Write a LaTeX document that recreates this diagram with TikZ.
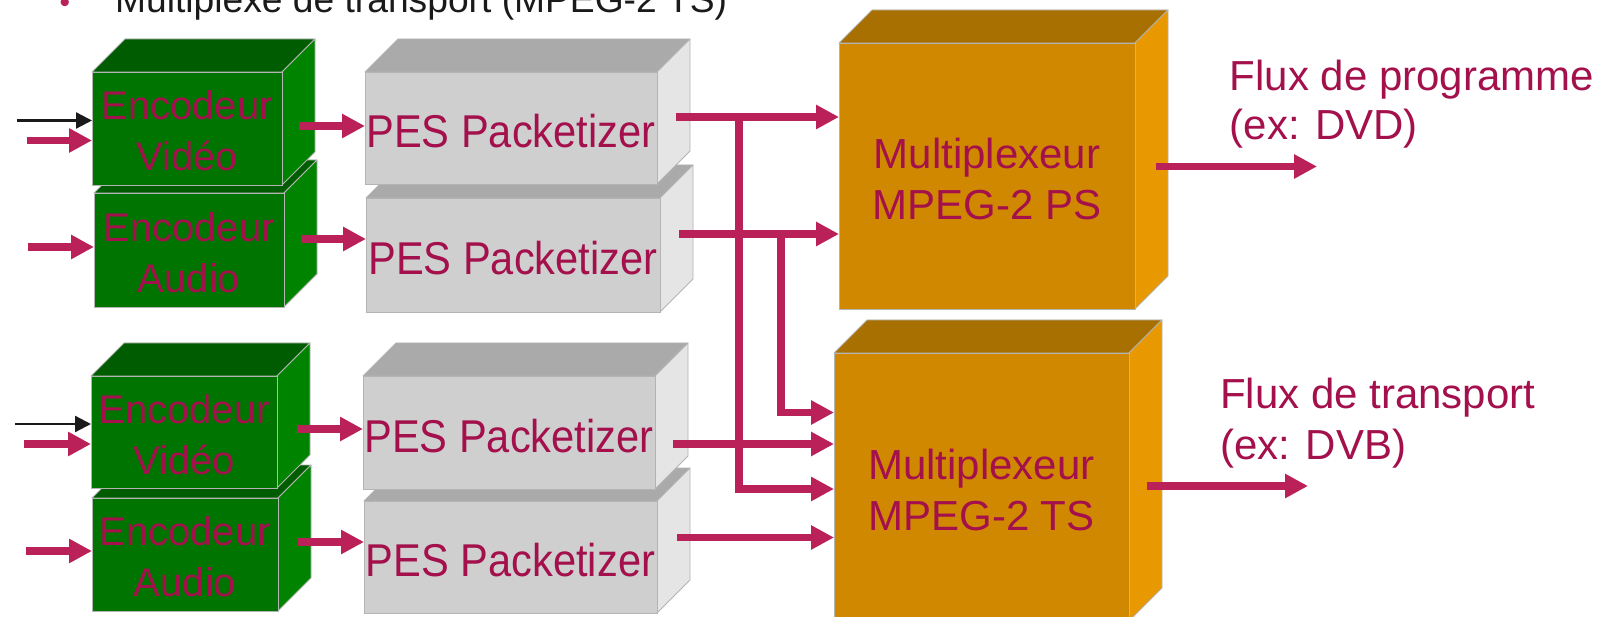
\documentclass[tikz,border=0pt]{standalone}
\usepackage{fontspec}
\setmainfont{Liberation Sans}
\newfontfamily\pesfont[FakeStretch=0.905]{Liberation Sans}
\usetikzlibrary{arrows.meta,calc}
\definecolor{arrc}{HTML}{B92158}
\definecolor{txtc}{HTML}{A3104C}
\definecolor{titc}{HTML}{1A1A1A}
\definecolor{gfront}{HTML}{007400}
\definecolor{gtop}{HTML}{005C00}
\definecolor{gside}{HTML}{008400}
\definecolor{pfront}{HTML}{CFCFCF}
\definecolor{ptop}{HTML}{AAAAAA}
\definecolor{pside}{HTML}{E5E5E5}
\definecolor{ofront}{HTML}{D08800}
\definecolor{otop}{HTML}{A87000}
\definecolor{oside}{HTML}{E89800}
\definecolor{edgec}{HTML}{B4B4B4}
\tikzset{
  facestyle/.style={draw=edgec, line width=0.8pt, line join=round},
  frontbox/.style={rectangle, draw=edgec, line width=0.8pt, inner sep=0pt, outer sep=0pt},
  boxtext/.style={text=txtc, align=center, inner sep=0pt, yshift=-2.5pt},
  enctext/.style={font=\fontsize{40pt}{50.7pt}\selectfont},
  pestext/.style={font=\pesfont\fontsize{46pt}{51pt}\selectfont, yshift=-1pt},
  muxtext/.style={font=\fontsize{42pt}{51pt}\selectfont},
  fluxtext/.style={text=txtc, align=left, inner sep=0pt, anchor=north west},
  arr/.style={draw=arrc, line width=7.5pt, line join=miter, -{Triangle[length=23pt,width=23pt]}},
  blkarr/.style={draw=titc, line width=2.3pt, -{Triangle[length=16pt,width=16pt]}},
}
\newcommand{\drawcube}[8]{%
  \filldraw[facestyle, fill=#6top] (#2,#3) -- (#2+33,#3-33) -- (#4+33,#3-33) -- (#4,#3) -- cycle;
  \filldraw[facestyle, fill=#6side] (#4,#3) -- (#4+33,#3-33) -- (#4+33,#5-33) -- (#4,#5) -- cycle;
  \node[frontbox, fill=#6front, minimum width={(#4-#2)*1pt}, minimum height={(#5-#3)*1pt}] (#1) at ({(#2+#4)/2},{(#3+#5)/2}) {};
  \node[boxtext, #7] (#1t) at (#1.center) {#8};
}
\begin{document}
\begin{tikzpicture}[x=1pt,y=-1pt]
\useasboundingbox (0,0) rectangle (1616,617);
\clip (0,0) rectangle (1616,617);
\fill[white] (0,0) rectangle (1616,617);

% title
\node[text=arrc, inner sep=0pt, anchor=base, font=\fontsize{30pt}{36pt}\selectfont] (bullet) at (65,13) {•};
\node[text=titc, inner sep=0pt, anchor=base west, font=\fontsize{37.2pt}{44pt}\selectfont] (title) at (115,13) {Multiplexe de transport (MPEG-2 TS)};

% top group
\drawcube{encA1}{94}{193}{284}{307}{g}{enctext}{Encodeur\\Audio}
\drawcube{encV1}{92}{72}{282}{185}{g}{enctext}{Encodeur\\Vidéo}
\drawcube{pes2}{366}{198}{660}{312}{p}{pestext}{PES Packetizer}
\drawcube{pes1}{365}{72}{657}{184}{p}{pestext}{PES Packetizer}
% bottom group
\drawcube{encA2}{92}{498}{278}{611}{g}{enctext}{Encodeur\\Audio}
\drawcube{encV2}{91}{376}{277}{488}{g}{enctext}{Encodeur\\Vidéo}
\drawcube{pes4}{364}{501}{657}{613}{p}{pestext}{PES Packetizer}
\drawcube{pes3}{363}{376}{655}{489}{p}{pestext}{PES Packetizer}
% multiplexers
\drawcube{ps}{839}{43}{1135}{309}{o}{muxtext}{Multiplexeur\\MPEG-2 PS}
\drawcube{ts}{834}{353}{1129}{621}{o}{muxtext}{Multiplexeur\\MPEG-2 TS}

% output labels
\node[fluxtext, font=\fontsize{42pt}{49.5pt}\selectfont] (fluxps) at (1229.5,59.5) {Flux de programme\\(ex: DVD)};
\node[fluxtext, font=\fontsize{42pt}{51pt}\selectfont] (fluxts) at (1220,378) {Flux de transport\\(ex: DVB)};

% input arrows
\coordinate (bV1) at (17,120.5);
\coordinate (iV1) at (27,140.5);
\coordinate (iA1) at (28,247);
\coordinate (bV2) at (15,424);
\coordinate (iV2) at (24,444);
\coordinate (iA2) at (26,551);
\draw[blkarr] (bV1) -- (bV1 -| encV1.west);
\draw[arr] (iV1) -- (iV1 -| encV1.west);
\draw[arr] (iA1) -- (iA1 -| encA1.west);
\draw[blkarr] (bV2) -- (bV2 -| encV2.west);
\draw[arr] (iV2) -- (iV2 -| encV2.west);
\draw[arr] (iA2) -- (iA2 -| encA2.west);

% encoder -> PES
\coordinate (eV1) at (299,126);
\coordinate (eA1) at (301,239);
\coordinate (eV2) at (297,429);
\coordinate (eA2) at (298,542);
\draw[arr] (eV1) -- (eV1 -| pes1.west);
\draw[arr] (eA1) -- (eA1 -| pes2.west);
\draw[arr] (eV2) -- (eV2 -| pes3.west);
\draw[arr] (eA2) -- (eA2 -| pes4.west);

% PES -> multiplexers
\coordinate (o1) at (676,117);
\coordinate (o2) at (679,234);
\coordinate (o3) at (673,444);
\coordinate (o4) at (677,537.5);
\draw[arr] (o1) -- (o1 -| ps.west);
\draw[arr] (o2) -- (o2 -| ps.west);
\draw[arr] (o3) -- (o3 -| ts.west);
\draw[arr] (o4) -- (o4 -| ts.west);
\coordinate (j1) at (739,117);
\coordinate (k1) at (739,489);
\coordinate (j2) at (781,234);
\coordinate (k2) at (781,412.5);
\draw[arr] (j1) -- (k1) -- (k1 -| ts.west);
\draw[arr] (j2) -- (k2) -- (k2 -| ts.west);

% outputs
\coordinate (sps) at (1156,166.5);
\coordinate (eps) at (1317,166.5);
\coordinate (sts) at (1147,486);
\coordinate (ets) at (1308,486);
\draw[arr] (sps) -- (eps);
\draw[arr] (sts) -- (ets);
\end{tikzpicture}
\end{document}
